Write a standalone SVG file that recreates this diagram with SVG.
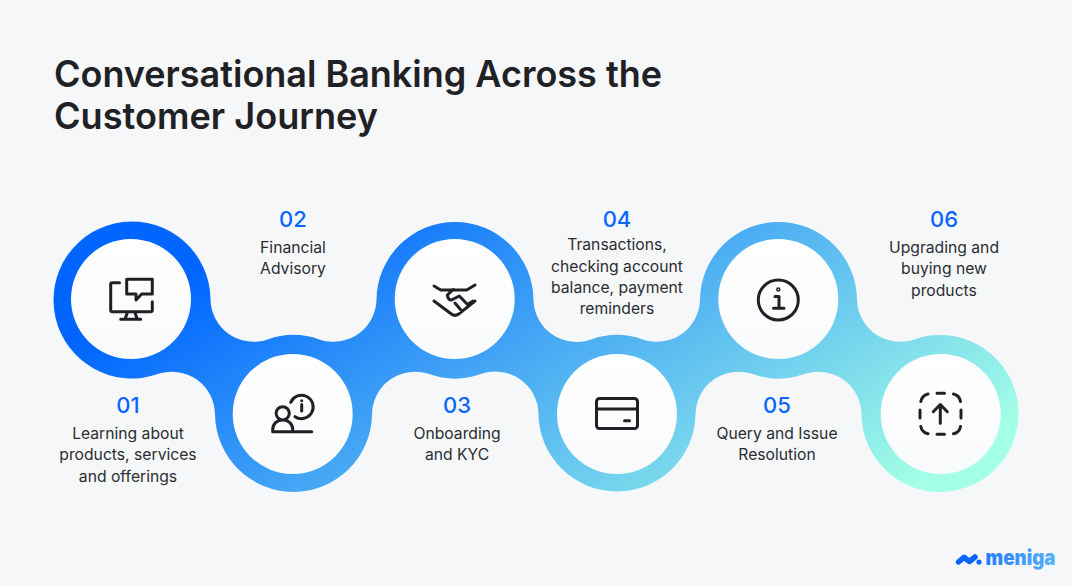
<svg xmlns="http://www.w3.org/2000/svg" width="1072" height="586" viewBox="0 0 1072 586">
<style>
.t{font-family:"Inter","Liberation Sans",sans-serif;text-anchor:middle;}
.title{font-family:"Inter","Liberation Sans",sans-serif;font-size:37px;font-weight:600;fill:#1f2125;}
.n{font-size:22px;font-weight:500;fill:#0a66ff;}
.b{font-size:15.7px;font-weight:400;fill:#2b2d31;}
.ic{fill:none;stroke:#1f2125;stroke-width:3;stroke-linecap:round;stroke-linejoin:round;}
.disc{fill:url(#disc);}
</style>
<defs>
<linearGradient id="band" gradientUnits="userSpaceOnUse" x1="150" y1="302" x2="451" y2="778"><stop offset="0" stop-color="#0066ff"/><stop offset="1" stop-color="#a3ffe6"/></linearGradient>
<linearGradient id="disc" x1="0" y1="0" x2="0" y2="1"><stop offset="0" stop-color="#ffffff"/><stop offset="1" stop-color="#f9fafc"/></linearGradient>
<linearGradient id="logo" gradientUnits="userSpaceOnUse" x1="955" y1="560" x2="1057" y2="560"><stop offset="0" stop-color="#0a66ff"/><stop offset="1" stop-color="#5cb4f5"/></linearGradient>
</defs>
<rect width="1072" height="586" fill="#f6f7f9"/>
<text class="title" x="54" y="87" textLength="608" lengthAdjust="spacingAndGlyphs">Conversational Banking Across the</text>
<text class="title" x="54" y="128.500" textLength="324" lengthAdjust="spacingAndGlyphs">Customer Journey</text>
<g id="connectors">
<path fill="url(#band)" d="M210.49 299.21A43 43 0 0 0 267.65 339.38A78.5 78.5 0 0 1 319.35 339.38A43 43 0 0 0 376.51 299.21A78.5 78.5 0 0 1 533.49 299.21A43 43 0 0 0 591.15 339.38A78.5 78.5 0 0 1 642.85 339.38A43 43 0 0 0 700.01 299.21A78.5 78.5 0 0 1 856.99 299.21A43 43 0 0 0 914.15 339.38A78.5 78.5 0 1 1 861.51 414.29A43 43 0 0 0 804.35 374.12A78.5 78.5 0 0 1 752.65 374.12A43 43 0 0 0 695.49 414.29A78.5 78.5 0 0 1 538.51 414.29A43 43 0 0 0 480.85 374.12A78.5 78.5 0 0 1 429.15 374.12A43 43 0 0 0 372 414.29A78.5 78.5 0 0 1 215.01 414.29A43 43 0 0 0 157.85 374.12A78.5 78.5 0 1 1 210.49 299.21Z"/>
</g>
<g id="node-01">
<circle class="disc" cx="131" cy="299" r="60"/>
<path class="ic" d="M119.500 282.700H112.500Q110.700 282.700 110.700 284.500V310Q110.700 311.700 112.500 311.700H150.500Q152.300 311.700 152.300 310V301.700M126.700 279.300H152.300V294H141.700L136 300V294H126.700ZM127.300 312.700L125 319.300M135 312.700L137.300 319.300M120.700 319.300H140.700"/>
<text class="t n" x="128" y="413">01</text>
<text class="t b" x="128" y="438.500">Learning about</text>
<text class="t b" x="128" y="460">products, services</text>
<text class="t b" x="128" y="481.500">and offerings</text>
</g>
<g id="node-02">
<circle class="disc" cx="292.700" cy="414" r="60"/>
<path class="ic" d="M272.700 431.700H311.700M272.700 431.700V429.500C272.700 424 277 420 282.700 420C288.400 420 292.700 424 292.700 429.500V431.700M289.300 413.300A6.600 6.600 0 1 1 276.100 413.300A6.600 6.600 0 1 1 289.300 413.300ZM290.700 402.300A11.700 11.700 0 1 1 295 416.700M301.700 400.700V400.800M301.700 404.500V411"/>
<text class="t n" x="293" y="227">02</text>
<text class="t b" x="293" y="253">Financial</text>
<text class="t b" x="293" y="274">Advisory</text>
</g>
<g id="node-03">
<circle class="disc" cx="454.700" cy="299" r="60"/>
<path class="ic" d="M434 286L440.700 290H453.300H466.700L475 285M434 301L451.700 314.300Q455 316.500 458.300 314.300L475 301M453.300 289.300L447.300 295Q448 300 451.500 300L459.300 296L467.500 304.500L473 301M455 303L461.700 311"/>
<text class="t n" x="457" y="413">03</text>
<text class="t b" x="457" y="438.500">Onboarding</text>
<text class="t b" x="457" y="460">and KYC</text>
</g>
<g id="node-04">
<circle class="disc" cx="617" cy="414" r="60"/>
<rect class="ic" x="596.500" y="398.500" width="41" height="30" rx="3"/>
<path class="ic" d="M596.500 409H637.500M624.500 420.700H629.500"/>
<text class="t n" x="617" y="227">04</text>
<text class="t b" x="617" y="250">Transactions,</text>
<text class="t b" x="617" y="272">checking account</text>
<text class="t b" x="617" y="293">balance, payment</text>
<text class="t b" x="617" y="314">reminders</text>
</g>
<g id="node-05">
<circle class="disc" cx="778.300" cy="299" r="60"/>
<circle class="ic" cx="778.300" cy="300" r="20"/>
<circle cx="778.300" cy="289.500" r="1.500" fill="none" stroke="#1f2125" stroke-width="1.500"/>
<path class="ic" d="M775 296.500H779V308.300M773.500 308.300H784"/>
<text class="t n" x="777" y="413">05</text>
<text class="t b" x="777" y="438.500">Query and Issue</text>
<text class="t b" x="777" y="460">Resolution</text>
</g>
<g id="node-06">
<circle class="disc" cx="940.700" cy="414" r="60"/>
<path class="ic" d="M940.300 423.300V405M933.300 411.700L940.300 404.500L947.300 411.700"/>
<path class="ic" d="M937 393.300H944.500M937 434.300H944.500M920 410V418M961 410V418M920.800 401.500Q922 395.500 928 394M953.500 394Q959.500 395.500 960.500 401.500M920.800 426.500Q922 432.500 928 433.800M953.500 433.800Q959.500 432.500 960.500 426.500"/>
<text class="t n" x="944" y="227">06</text>
<text class="t b" x="944" y="252.500">Upgrading and</text>
<text class="t b" x="944" y="274">buying new</text>
<text class="t b" x="944" y="296">products</text>
</g>
<g id="logo-mark">
<path d="M958.500 562L964 557.300L969.500 561.500L975 557" fill="none" stroke="#0a66ff" stroke-width="5.500" stroke-linejoin="round" stroke-linecap="round"/>
<circle cx="979" cy="562" r="2.600" fill="#0a66ff"/>
<text x="985.500" y="565" font-family="Inter,'Liberation Sans',sans-serif" font-size="20.500" font-weight="900" fill="url(#logo)" textLength="70" lengthAdjust="spacingAndGlyphs">meniga</text>
</g>
</svg>
